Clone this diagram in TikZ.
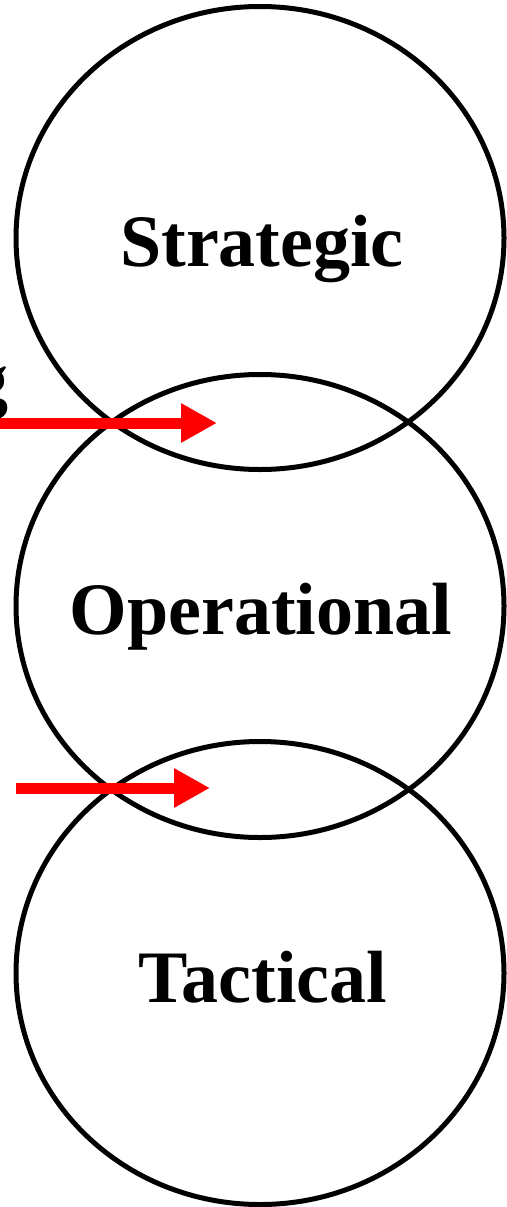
\documentclass[tikz,border=0pt]{standalone}
\usepackage{fontspec}
\setmainfont{Liberation Serif}
\usetikzlibrary{shapes.geometric,arrows.meta}
\tikzset{
  ring/.style={draw=black, line width=5pt, ellipse, minimum width=488pt, minimum height=463pt, inner sep=0pt, outer sep=0pt},
  lbl/.style={inner sep=0pt, anchor=base, font=\fontsize{74}{80}\selectfont\bfseries},
  redarrow/.style={draw=red, line width=11pt, -{Triangle[length=36pt,width=37pt]}}
}
\begin{document}
\begin{tikzpicture}[x=1pt,y=-1pt]
\useasboundingbox (0,0) rectangle (506,1207);
\node[ring] (strat) at (260,238) {};
\node[ring] (oper) at (260,606) {};
\node[ring] (tact) at (260,973) {};
\node[lbl] (tstrat) at (262,266) {Strategic};
\node[lbl] (toper) at (261,634) {Operational};
\node[lbl] (ttact) at (263,1002) {Tactical};
\node[lbl, anchor=base east] (tg) at (9,404) {g};
\coordinate (a1s) at (0,423);
\coordinate (a1e) at (217,423);
\coordinate (a2s) at (16,788);
\coordinate (a2e) at (210,788);
\draw[redarrow] (a1s) -- (a1e);
\draw[redarrow] (a2s) -- (a2e);
\end{tikzpicture}
\end{document}
